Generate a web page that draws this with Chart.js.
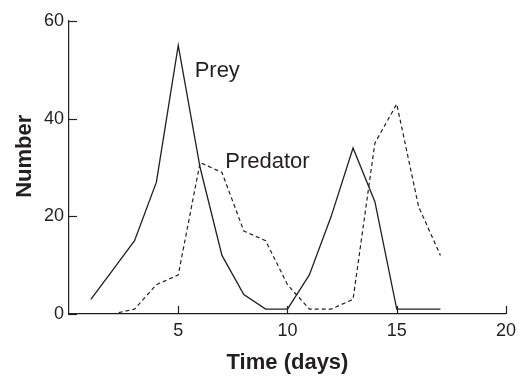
<!DOCTYPE html>
<html>
<head>
<meta charset="utf-8">
<script src="https://cdn.jsdelivr.net/npm/chart.js@4/dist/chart.umd.min.js"></script>
<style>
  html, body { margin: 0; padding: 0; background: #fff; }
  #wrap { width: 522px; height: 379px; }
</style>
</head>
<body>
<div id="wrap"><canvas id="c" width="522" height="379"></canvas></div>
<script>
const days = [1, 2, 3, 4, 5, 6, 7, 8, 9, 10, 11, 12, 13, 14, 15, 16, 17];
const prey = [3, 9, 15, 27, 55, 30, 12, 4, 1, 1, 8, 20, 34, 23, 1, 1, 1];
const predator = [0, 0, 1, 6, 8, 31, 29, 17, 15, 6, 1, 1, 3, 35, 43, 22, 12];
const xTicks = [0, 5, 10, 15, 20];
const yTicks = [0, 20, 40, 60];
const seriesLabels = [
  { text: 'Prey', x: 5.75, y: 48.5 },
  { text: 'Predator', x: 7.15, y: 30 }
];
const yTitle = 'Number';
const xTitle = 'Time (days)';

const FONT = '"Liberation Sans", Arial, Helvetica, sans-serif';
const INK = '#231f20';

const toPts = (ys) => days.map((d, i) => ({ x: d, y: ys[i] }));

const inwardTicks = {
  id: 'inwardTicks',
  afterDatasetsDraw(chart) {
    const { ctx, scales: { x, y }, chartArea } = chart;
    ctx.save();
    ctx.strokeStyle = INK;
    ctx.lineWidth = 1.2;
    const len = 8;
    xTicks.forEach(v => {
      if (v === 0) return;
      const px = Math.round(x.getPixelForValue(v)) + 0.5;
      ctx.beginPath();
      ctx.moveTo(px, chartArea.bottom);
      ctx.lineTo(px, chartArea.bottom - len);
      ctx.stroke();
    });
    yTicks.forEach(v => {
      const py = Math.round(y.getPixelForValue(v)) + 0.5;
      ctx.beginPath();
      ctx.moveTo(chartArea.left, py);
      ctx.lineTo(chartArea.left + len, py);
      ctx.stroke();
    });
    // series labels
    ctx.fillStyle = INK;
    ctx.font = '22px ' + FONT;
    ctx.textAlign = 'left';
    ctx.textBaseline = 'alphabetic';
    seriesLabels.forEach(l => {
      ctx.fillText(l.text, x.getPixelForValue(l.x), y.getPixelForValue(l.y));
    });
    // y axis title (placed slightly above the axis centre, as in the source)
    ctx.font = 'bold 22px ' + FONT;
    ctx.textAlign = 'center';
    ctx.textBaseline = 'middle';
    ctx.translate(25, y.getPixelForValue(32.3));
    ctx.rotate(-Math.PI / 2);
    ctx.fillText(yTitle, 0, 0);
    ctx.restore();
  }
};

new Chart(document.getElementById('c'), {
  type: 'line',
  data: {
    datasets: [
      {
        label: 'Prey',
        data: toPts(prey),
        borderColor: INK,
        borderWidth: 1.3,
        pointRadius: 0,
        tension: 0,
        fill: false
      },
      {
        label: 'Predator',
        data: toPts(predator),
        borderColor: INK,
        borderWidth: 1.2,
        borderDash: [4, 3],
        pointRadius: 0,
        tension: 0,
        fill: false
      }
    ]
  },
  options: {
    responsive: false,
    animation: false,
    events: [],
    layout: { padding: { left: 0, right: 13, top: 21, bottom: 0 } },
    plugins: { legend: { display: false }, tooltip: { enabled: false } },
    scales: {
      x: {
        type: 'linear',
        min: 0,
        max: 20,
        afterBuildTicks(scale) { scale.ticks = xTicks.map(v => ({ value: v })); },
        afterFit(scale) { scale.height = 65; },
        grid: { display: false, drawTicks: false },
        border: { display: true, color: INK, width: 1.2 },
        ticks: {
          padding: 6,
          color: INK,
          font: { family: FONT, size: 18 },
          maxRotation: 0,
          callback: (v) => (v === 0 ? '' : String(v))
        },
        title: {
          display: true,
          text: xTitle,
          color: INK,
          font: { family: FONT, size: 22, weight: 'bold' },
          padding: { top: 0, bottom: 3 }
        }
      },
      y: {
        type: 'linear',
        min: 0,
        max: 60,
        afterBuildTicks(scale) { scale.ticks = yTicks.map(v => ({ value: v })); },
        afterFit(scale) { scale.width = 69; },
        grid: { display: false, drawTicks: false },
        border: { display: true, color: INK, width: 1.2 },
        ticks: {
          padding: 5,
          color: INK,
          font: { family: FONT, size: 18 }
        },
        title: { display: false }
      }
    }
  },
  plugins: [inwardTicks]
});
</script>
</body>
</html>
